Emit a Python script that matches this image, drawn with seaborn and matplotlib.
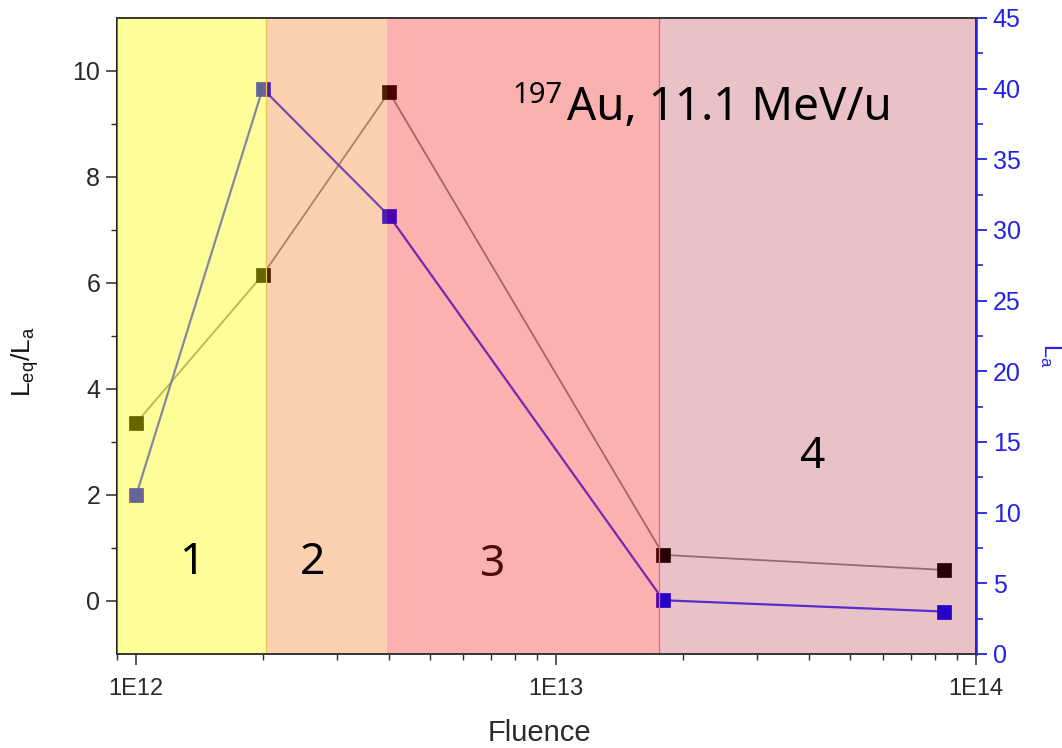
import numpy as np
import matplotlib
matplotlib.use("Agg")
import matplotlib.pyplot as plt
import matplotlib.ticker as mticker
import seaborn as sns

# ---- data ----
fluence = [1.0e12, 2.0e12, 4.0e12, 1.8e13, 8.4e13]
leq_over_la = [3.36, 6.15, 9.60, 0.87, 0.585]
la_values = [11.25, 40.0, 31.0, 3.8, 3.0]

region_edges = [9.0e11, 2.04e12, 3.96e12, 1.76e13, 1.0e14]
region_labels = ["1", "2", "3", "4"]

left_ticks = [0, 2, 4, 6, 8, 10]
right_ticks = [0, 5, 10, 15, 20, 25, 30, 35, 40, 45]
x_ticks = [1e12, 1e13, 1e14]
x_tick_labels = ["1E12", "1E13", "1E14"]

# ---- style ----
sns.set_style("ticks")
plt.rcParams["font.family"] = ["Liberation Sans", "DejaVu Sans"]
plt.rcParams["mathtext.fontset"] = "custom"
plt.rcParams["mathtext.rm"] = "Liberation Sans"
plt.rcParams["mathtext.it"] = "Liberation Sans:italic"
plt.rcParams["mathtext.bf"] = "Liberation Sans:bold"

blue_axis = "#2323e6"
tick_grey = "#2a2a2a"

fig = plt.figure(figsize=(10.62, 7.48), dpi=100)
ax = fig.add_axes([0.1102, 0.1257, 0.8089, 0.8503])
ax.set_facecolor("white")
ax2 = ax.twinx()

# ratio series (left axis)
sns.lineplot(x=fluence, y=leq_over_la, ax=ax, color="#8c8c8c", linewidth=1.3,
             marker="s", markersize=9.5, markerfacecolor="black",
             markeredgecolor="black", markeredgewidth=0.5, zorder=2)
# La series (right axis)
sns.lineplot(x=fluence, y=la_values, ax=ax2, color="#3c3cff", linewidth=1.6,
             marker="s", markersize=9.5, markerfacecolor="#0000ff",
             markeredgecolor="#0000ff", markeredgewidth=0.5, zorder=2)

ax.set_xscale("log")
ax.set_xlim(region_edges[0], region_edges[-1])
ax.set_ylim(-1, 11)
ax2.set_ylim(0, 45)

# translucent fluence regions laid over the data
region_colors = [((252, 252, 0), 0.40), ((248, 105, 0), 0.306),
                 ((248, 0, 0), 0.306), ((167, 0, 21), 0.24)]
for (x0, x1), (rgb, a) in zip(zip(region_edges[:-1], region_edges[1:]), region_colors):
    ax2.axvspan(x0, x1, color=tuple(c / 255 for c in rgb), alpha=a,
                linewidth=0, zorder=3)
ax2.axvline(region_edges[1], color="#f2c24a", linewidth=0.9, zorder=3.5)
ax2.axvline(region_edges[3], color="#e26a6a", linewidth=0.9, zorder=3.5)

# ---- region numbers and ion label ----
num_font = dict(family="Noto Sans", fontsize=32, ha="center", va="center", zorder=6)
num_pos = [(0.087, 0.143), (0.228, 0.143), (0.436, 0.140), (0.809, 0.309)]
num_colors = ["black", "black", "#4c0c0c", "black"]
for lab, (px, py), col in zip(region_labels, num_pos, num_colors):
    ax2.text(px, py, lab, transform=ax2.transAxes, color=col, **num_font)

ax2.text(0.4605, 0.866, "197", transform=ax2.transAxes, fontsize=21,
         family="Noto Sans", color="black", ha="left", va="baseline", zorder=6)
ax2.text(0.5235, 0.840, "Au, 11.1 MeV/u", transform=ax2.transAxes, fontsize=33,
         family="Noto Sans", color="black", ha="left", va="baseline", zorder=6)

# ---- axes ----
ax.set_xticks(x_ticks)
ax.xaxis.set_major_formatter(mticker.FixedFormatter(x_tick_labels))
ax.xaxis.set_minor_locator(mticker.LogLocator(base=10, subs=np.arange(2, 10)))
ax.xaxis.set_minor_formatter(mticker.NullFormatter())
ax.set_yticks(left_ticks)
ax.yaxis.set_minor_locator(mticker.FixedLocator([1, 3, 5, 7, 9]))
ax2.set_yticks(right_ticks)
ax2.yaxis.set_minor_locator(mticker.FixedLocator([t + 2.5 for t in right_ticks[:-1]]))

ax.tick_params(axis="x", which="major", direction="out", length=8, width=1.1,
               labelsize=17, colors=tick_grey, pad=9)
ax.tick_params(axis="x", which="minor", direction="out", length=4.5, width=1.0,
               colors=tick_grey)
ax.tick_params(axis="y", which="major", direction="out", length=8, width=1.1,
               labelsize=18, colors=tick_grey, pad=4)
ax.tick_params(axis="y", which="minor", direction="out", length=4.5, width=1.0,
               colors=tick_grey)
ax2.tick_params(axis="y", which="major", direction="out", length=8, width=1.3,
                labelsize=18, colors=blue_axis, pad=4)
ax2.tick_params(axis="y", which="minor", direction="out", length=5, width=1.2,
                colors=blue_axis)

for s in ax.spines.values():
    s.set_color("#1a1a1a")
    s.set_linewidth(1.4)
ax2.spines["left"].set_visible(False)
for name in ["top", "bottom"]:
    ax2.spines[name].set_color("#3a3a3a")
    ax2.spines[name].set_linewidth(1.4)
    ax2.spines[name].set_zorder(5)
ax2.spines["right"].set_color(blue_axis)
ax2.spines["right"].set_linewidth(1.8)
ax2.spines["right"].set_zorder(5)

ax.set_xlabel("Fluence", fontsize=21, color=tick_grey, va="center")
ax.xaxis.set_label_coords(0.492, -0.124)
ax.set_ylabel(r"L$_\mathrm{eq}$/L$_\mathrm{a}$", fontsize=19, color="#111111",
              va="center")
ax.yaxis.set_label_coords(-0.107, 0.459)
ax2.set_ylabel(r"L$_\mathrm{a}$", fontsize=17, color=blue_axis, rotation=270,
               va="center")
ax2.yaxis.set_label_coords(1.087, 0.470)

fig.savefig("out.png", dpi=100)
